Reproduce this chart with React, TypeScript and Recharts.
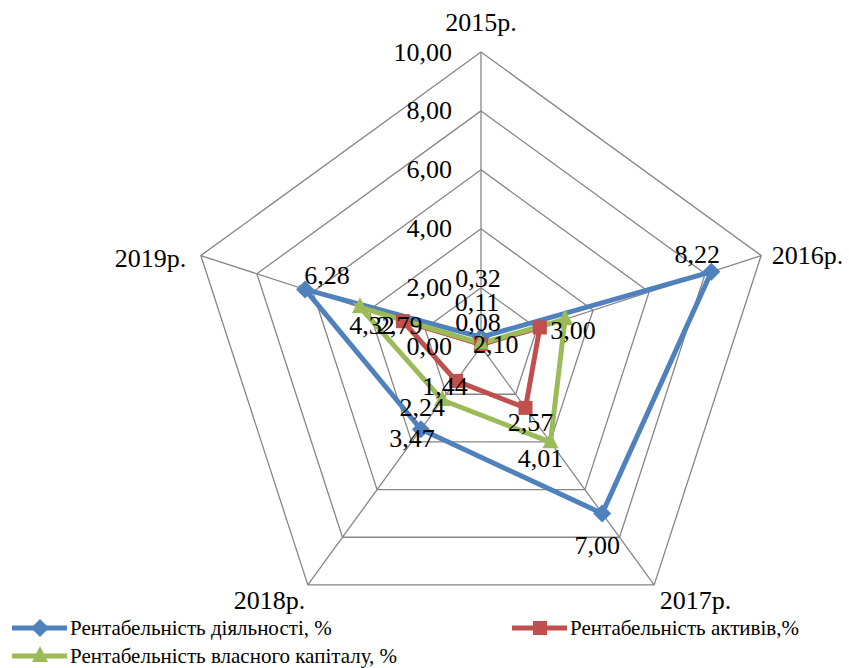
import React from "react";
import {
    RadarChart,
    Radar,
    PolarGrid,
    PolarAngleAxis,
    PolarRadiusAxis,
    Legend,
} from "recharts";

const years = ["2015р.", "2016р.", "2017р.", "2018р.", "2019р."];
const operatingReturn = [0.32, 8.22, 7.0, 3.47, 6.28];
const assetReturn = [0.08, 2.1, 2.57, 1.44, 2.79];
const equityReturn = [0.11, 3.0, 4.01, 2.24, 4.32];
const radiusTicks = [0, 2, 4, 6, 8, 10];

const seriesNames = [
    "Рентабельність діяльності, %",
    "Рентабельність активів,%",
    "Рентабельність власного капіталу, %",
];

const BLUE = "#4F81BD";
const RED = "#C0504D";
const GREEN = "#9BBB59";
const FONT = "'Liberation Serif', 'Times New Roman', serif";

// label nudges (dx, dy) per point, like Excel placed them
const blueLabelShift = [[-3, -59], [-14, -17], [-5, 32], [-9, 9], [22, -14]];
const redLabelShift = [[-3, -22], [-44, 17], [5, 15], [-11, 6], [-3, 4]];
const greenLabelShift = [[-4, -41], [8, 11], [-10, 16], [-20, 8], [12, 18]];

// angle axis label placement per category
const yearTickShift = [
    { anchor: "middle", dx: 0, dy: -22 },
    { anchor: "start", dx: 3, dy: 2 },
    { anchor: "start", dx: 1, dy: 9 },
    { anchor: "end", dx: 2, dy: 9 },
    { anchor: "end", dx: -7, dy: 5 },
];

const fmt = (v: number) => v.toFixed(2).replace(".", ",");

const chartData = years.map((year, i) => ({
    year,
    operating: operatingReturn[i],
    assets: assetReturn[i],
    equity: equityReturn[i],
}));

const Marker = ({ kind, x, y, color }: any) => {
    if (kind === "diamond") {
        return (
            <polygon
                points={`${x},${y - 9} ${x + 9},${y} ${x},${y + 9} ${x - 9},${y}`}
                fill={color}
            />
        );
    }
    if (kind === "square") {
        return <rect x={x - 7} y={y - 7} width={14} height={14} fill={color} />;
    }
    return (
        <polygon
            points={`${x},${y - 10} ${x + 8},${y + 6} ${x - 8},${y + 6}`}
            fill={color}
        />
    );
};

const makeDot = (kind: string, color: string) => (props: any) => (
    <Marker key={`${kind}-${props.index}`} kind={kind} x={props.cx} y={props.cy} color={color} />
);

const makeLabel = (shift: number[][]) => (props: any) => {
    const [dx, dy] = shift[props.index] || [0, 0];
    return (
        <text
            key={`lbl-${props.index}`}
            x={props.x + dx}
            y={props.y + dy}
            textAnchor="middle"
            dominantBaseline="central"
            fontFamily={FONT}
            fontSize={26}
            fill="#000"
        >
            {fmt(Number(props.value))}
        </text>
    );
};

const YearTick = (props: any) => {
    const s = yearTickShift[props.index] || yearTickShift[0];
    return (
        <text
            x={props.x + s.dx}
            y={props.y + s.dy}
            textAnchor={s.anchor}
            dominantBaseline="central"
            fontFamily={FONT}
            fontSize={26}
            fill="#000"
        >
            {props.payload.value}
        </text>
    );
};

const RadiusTick = (props: any) => (
    <text
        x={props.x - 29}
        y={props.y}
        textAnchor="end"
        dominantBaseline="central"
        fontFamily={FONT}
        fontSize={26}
        fill="#000"
    >
        {fmt(Number(props.payload.value))}
    </text>
);

const legendItems = [
    { name: seriesNames[0], color: BLUE, kind: "diamond", x: 12, y: 18 },
    { name: seriesNames[1], color: RED, kind: "square", x: 512, y: 18 },
    { name: seriesNames[2], color: GREEN, kind: "triangle", x: 12, y: 46 },
];

const renderLegend = () => (
    <svg width={849} height={58}>
        {legendItems.map((it) => (
            <g key={it.name}>
                <line
                    x1={it.x}
                    x2={it.x + 55}
                    y1={it.y}
                    y2={it.y}
                    stroke={it.color}
                    strokeWidth={5}
                />
                <Marker kind={it.kind} x={it.x + 28} y={it.y} color={it.color} />
                <text
                    x={it.x + 58}
                    y={it.y}
                    dominantBaseline="central"
                    fontFamily={FONT}
                    fontSize={21}
                    fill="#000"
                >
                    {it.name}
                </text>
            </g>
        ))}
    </svg>
);

const App: React.FC = () => {
    return (
        <div style={{ position: "absolute", left: 0, top: 0, width: 849, height: 668, background: "#fff" }}>
            <RadarChart
                width={849}
                height={668}
                data={chartData}
                cx={481}
                cy={346.6}
                outerRadius={294.6}
                margin={{ top: 0, right: 0, bottom: 0, left: 0 }}
            >
                <PolarGrid gridType="polygon" stroke="#868686" strokeWidth={1.3} />
                <PolarAngleAxis
                    dataKey="year"
                    tick={YearTick}
                    tickLine={false}
                    axisLine={false}
                />
                <PolarRadiusAxis
                    angle={90}
                    domain={[0, 10]}
                    ticks={radiusTicks as any}
                    tick={RadiusTick}
                    axisLine={false}
                    tickLine={false}
                />
                <Radar
                    name={seriesNames[0]}
                    dataKey="operating"
                    stroke={BLUE}
                    strokeWidth={5}
                    fill="none"
                    fillOpacity={0}
                    dot={makeDot("diamond", BLUE)}
                    label={makeLabel(blueLabelShift)}
                    isAnimationActive={false}
                />
                <Radar
                    name={seriesNames[1]}
                    dataKey="assets"
                    stroke={RED}
                    strokeWidth={5}
                    fill="none"
                    fillOpacity={0}
                    dot={makeDot("square", RED)}
                    label={makeLabel(redLabelShift)}
                    isAnimationActive={false}
                />
                <Radar
                    name={seriesNames[2]}
                    dataKey="equity"
                    stroke={GREEN}
                    strokeWidth={5}
                    fill="none"
                    fillOpacity={0}
                    dot={makeDot("triangle", GREEN)}
                    label={makeLabel(greenLabelShift)}
                    isAnimationActive={false}
                />
                <Legend
                    content={renderLegend}
                    wrapperStyle={{ position: "absolute", left: 0, top: 610, width: 849, height: 58 }}
                />
            </RadarChart>
        </div>
    );
};

export default App;
